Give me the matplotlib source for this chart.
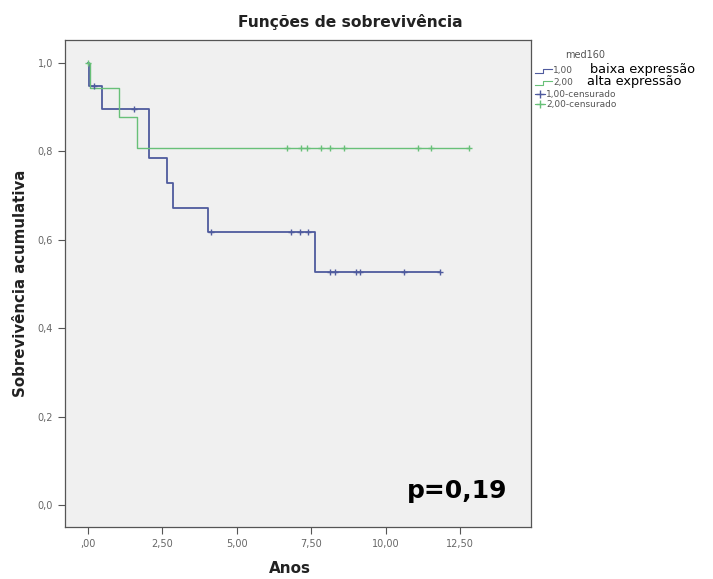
import matplotlib.pyplot as plt
from matplotlib.lines import Line2D

# Kaplan-Meier step values
# group 1,00 (baixa expressão)
t1 = [0.0, 0.05, 0.46, 2.06, 2.66, 2.87, 4.04, 7.63, 11.83]
s1 = [1.0, 0.947, 0.895, 0.784, 0.728, 0.671, 0.618, 0.527, 0.527]
c1_t = [0.2, 1.55, 4.12, 6.81, 7.12, 7.40, 8.13, 8.30, 9.00, 9.12, 10.63, 11.83]
c1_s = [0.947, 0.895, 0.618, 0.618, 0.618, 0.618, 0.527, 0.527, 0.527, 0.527, 0.527, 0.527]

# group 2,00 (alta expressão)
t2 = [0.0, 0.08, 1.04, 1.64, 12.80]
s2 = [1.0, 0.944, 0.878, 0.807, 0.807]
c2_t = [0.0, 6.68, 7.15, 7.37, 7.82, 8.13, 8.61, 11.10, 11.53, 12.80]
c2_s = [1.0, 0.807, 0.807, 0.807, 0.807, 0.807, 0.807, 0.807, 0.807, 0.807]

x_ticks = [0, 2.5, 5, 7.5, 10, 12.5]
x_labels = [',00', '2,50', '5,00', '7,50', '10,00', '12,50']
y_ticks = [0.0, 0.2, 0.4, 0.6, 0.8, 1.0]
y_labels = ['0,0', '0,2', '0,4', '0,6', '0,8', '1,0']

blue = '#4f5b9e'
green = '#68c078'

fig = plt.figure(figsize=(7.13, 5.79), dpi=100)
ax = fig.add_axes([0.0912, 0.0898, 0.654, 0.841])
ax.set_facecolor('#f0f0f0')

ax.step(t1, s1, where='post', color=blue, linewidth=1.3)
ax.step(t2, s2, where='post', color=green, linewidth=1.0)
ax.plot(c1_t, c1_s, '+', color=blue, markersize=5, markeredgewidth=1.0)
ax.plot(c2_t, c2_s, '+', color=green, markersize=5, markeredgewidth=1.0)

ax.set_xlim(-0.77, 14.89)
ax.set_ylim(-0.05, 1.052)
ax.set_xticks(x_ticks)
ax.set_xticklabels(x_labels)
ax.set_yticks(y_ticks)
ax.set_yticklabels(y_labels)
ax.tick_params(direction='out', length=5, width=0.8, colors='#555555', labelsize=7, labelcolor='#666666')
for sp in ax.spines.values():
    sp.set_color('#555555')
    sp.set_linewidth(0.9)

fig.text(350 / 713, 1 - 22 / 579, 'Funções de sobrevivência', fontsize=11.2,
         fontweight='bold', ha='center', va='center', color='#222222')
ax.set_xlabel('Anos', fontsize=11, fontweight='bold', va='center', color='#222222')
ax.xaxis.set_label_coords((290 - 65) / 466, -(568 - 527) / 487)
ax.set_ylabel('Sobrevivência acumulativa', fontsize=10.8, fontweight='bold',
              va='center', color='#222222')
ax.yaxis.set_label_coords(-(65 - 21) / 466, (527 - 283) / 487)

ax.text(0.948, 0.074, 'p=0,19', transform=ax.transAxes, ha='right', va='center',
        fontsize=18, fontweight='bold')

# legend drawn outside at right
fig.text(565 / 713, 1 - 55 / 579, 'med160', fontsize=7, color='#555555', va='center')
rows = [71, 83, 94, 104]
for y, col in zip(rows[:2], [blue, green]):
    yy = 1 - y / 579
    fig.add_artist(Line2D([535 / 713, 543 / 713, 543 / 713, 552 / 713],
                          [yy - 0.004, yy - 0.004, yy + 0.004, yy + 0.004],
                          transform=fig.transFigure, color=col, linewidth=0.8))
fig.text(553 / 713, 1 - rows[0] / 579, '1,00', fontsize=6.5, color='#555555', va='center')
fig.text(553 / 713, 1 - rows[1] / 579, '2,00', fontsize=6.5, color='#555555', va='center')
fig.text(590 / 713, 1 - 69 / 579, 'baixa expressão', fontsize=9.3, va='center')
fig.text(587 / 713, 1 - 82 / 579, 'alta expressão', fontsize=9.3, va='center')
for y, col, lab in zip(rows[2:], [blue, green], ['1,00-censurado', '2,00-censurado']):
    yy = 1 - y / 579
    fig.add_artist(Line2D([535 / 713, 545 / 713], [yy, yy], transform=fig.transFigure,
                          color=col, linewidth=0.8))
    fig.add_artist(Line2D([540 / 713], [yy], transform=fig.transFigure, marker='+',
                          color=col, markersize=6))
    fig.text(546 / 713, yy, lab, fontsize=6.5, color='#555555', va='center')

fig.savefig('out.png', dpi=100)
